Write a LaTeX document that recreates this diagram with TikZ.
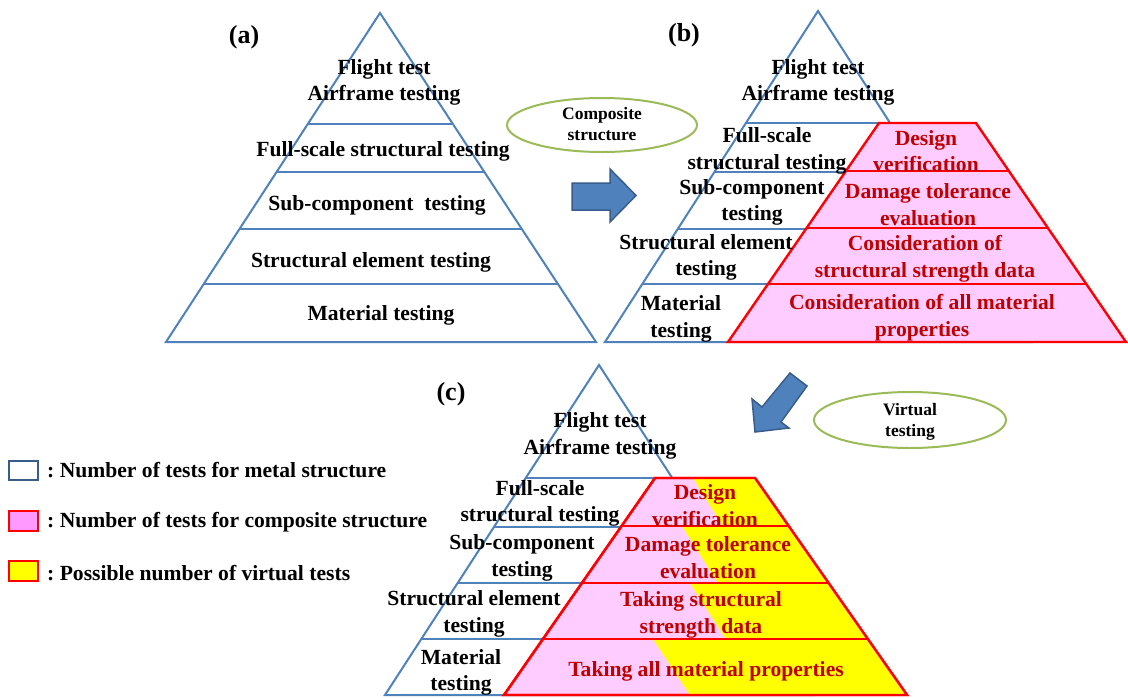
\documentclass[tikz,border=0pt]{standalone}
\usepackage{fontspec}
\setmainfont{Liberation Serif}
\frenchspacing
\definecolor{pblue}{RGB}{79,129,189}
\definecolor{dblue}{RGB}{56,93,138}
\definecolor{pred}{RGB}{255,0,0}
\definecolor{tred}{RGB}{192,0,0}
\definecolor{ppink}{RGB}{255,204,255}
\definecolor{lpink}{RGB}{255,153,255}
\definecolor{pyel}{RGB}{255,255,0}
\definecolor{pgreen}{RGB}{155,187,89}
\begin{document}
\begin{tikzpicture}[x=1pt,y=-1pt,
  blueline/.style={draw=pblue,line width=2pt,line join=miter},
  redline/.style={draw=pred,line width=2.4pt,line join=miter},
  lbl/.style={font=\fontsize{21.6}{26.5}\selectfont\bfseries\frenchspacing,align=center,inner sep=0pt,text=black,yshift=-2.5pt},
  rlbl/.style={lbl,text=tred},
  tag/.style={font=\fontsize{26}{30}\selectfont\bfseries,inner sep=0pt,yshift=-2pt},
  oval/.style={draw=pgreen,line width=2pt},
  otext/.style={font=\fontsize{17.5}{21.5}\selectfont\bfseries,align=center,inner sep=0pt,yshift=-1pt},
  blockarrow/.style={fill=pblue,draw=dblue,line width=1.5pt,line join=miter},
  legbox/.style={line width=2pt}
]
\useasboundingbox (0,0) rectangle (1128,697);
\fill[white] (0,0) rectangle (1128,697);

% ---------------- (a) ----------------
\draw[blueline] (380,13) -- (166,342) -- (596,342) -- cycle;
\draw[blueline] (307.5,124) -- (452.5,124);
\draw[blueline] (276.1,172) -- (483.9,172);
\draw[blueline] (238.8,229) -- (521.2,229);
\draw[blueline] (202.9,284) -- (557.1,284);
\node[tag] (taga) at (244,35) {(a)};
\node[lbl] (a1) at (384,80) {Flight test\\Airframe testing};
\node[lbl] (a2) at (383,149) {Full-scale structural testing};
\node[lbl] (a3) at (377,203) {Sub-component\ \ testing};
\node[lbl] (a4) at (371,260) {Structural element testing};
\node[lbl] (a5) at (381,313) {Material testing};

% ---------------- (b) ----------------
\draw[blueline] (818,11) -- (605,342) -- (1031,342) -- cycle;
\draw[blueline] (745.9,123) -- (890.1,123);
\draw[blueline] (714.4,172) -- (921.6,172);
\draw[blueline] (677.7,229) -- (958.3,229);
\draw[blueline] (642.3,284) -- (993.7,284);
\filldraw[redline,fill=ppink] (879,123) -- (976,123) -- (1126,342) -- (728,342) -- cycle;
\draw[redline] (845.9,171) -- (1008.9,171);
\draw[redline] (806.6,228) -- (1047.9,228);
\draw[redline] (768.0,284) -- (1086.3,284);
\node[tag] (tagb) at (684,33) {(b)};
\node[lbl] (b1) at (818,80) {Flight test\\Airframe testing};
\node[lbl] (b2) at (767,148.5) {Full-scale\\structural testing};
\node[lbl] (b3) at (752,200) {Sub-component\\testing};
\node[lbl] (b4) at (706,255) {Structural element\\testing};
\node[lbl] (b5) at (681,316.5) {Material\\testing};
\node[rlbl] (r1) at (926,148.5) {Design\\verification};
\node[rlbl] (r2) at (928,202) {Damage tolerance\\evaluation};
\node[rlbl] (r3) at (925,256.5) {Consideration of\\structural strength data};
\node[rlbl] (r4) at (922,315) {Consideration of all material\\properties};

% ---------------- (c) ----------------
\draw[blueline] (599,365) -- (385,695) -- (813,695) -- cycle;
\draw[blueline] (525.7,478) -- (672.3,478);
\draw[blueline] (493.9,527) -- (704.1,527);
\draw[blueline] (457.6,583) -- (740.4,583);
\draw[blueline] (421.3,639) -- (776.7,639);
\filldraw[redline,fill=ppink] (655,478) -- (755,478) -- (907,695) -- (504,695) -- cycle;
\fill[pyel] (693,478) -- (755,478) -- (788.6,526) -- (723,526) -- cycle;
\fill[pyel] (682,526) -- (788.6,526) -- (828.5,583) -- (718,583) -- cycle;
\fill[pyel] (690,583) -- (828.5,583) -- (867.7,639) -- (726,639) -- cycle;
\fill[pyel] (653,639) -- (867.7,639) -- (907,695) -- (690,695) -- cycle;
\draw[redline] (655,478) -- (755,478) -- (907,695) -- (504,695) -- cycle;
\draw[redline] (621.6,526) -- (788.6,526);
\draw[redline] (581.9,583) -- (828.5,583);
\draw[redline] (542.9,639) -- (867.7,639);
\node[tag] (tagc) at (451,392) {(c)};
\node[lbl] (c1) at (600,433.5) {Flight test\\Airframe testing};
\node[lbl] (c2) at (540,501) {Full-scale\\structural testing};
\node[lbl] (c3) at (522,555.5) {Sub-component\\testing};
\node[lbl] (c4) at (474,611.5) {Structural element\\testing};
\node[lbl] (c5) at (461,670) {Material\\testing};
\node[rlbl] (s1) at (705,503) {Design\\verification};
\node[rlbl] (s2) at (708,555) {Damage tolerance\\evaluation};
\node[rlbl] (s3) at (701,612.5) {Taking structural\\strength data};
\node[rlbl] (s4) at (706,669) {Taking all material properties};

% ---------------- ovals and arrows ----------------
\draw[oval] (602,125) ellipse [x radius=95, y radius=27];
\node[otext] (comp) at (602,123) {Composite\\structure};
\draw[oval] (910,420) ellipse [x radius=96, y radius=28];
\node[otext] (virt) at (910,421) {Virtual\\testing};
\draw[blockarrow] (572,183) -- (610,183) -- (610,169) -- (636,195.5) -- (610,222) -- (610,210) -- (572,210) -- cycle;
\draw[blockarrow] (755,432) -- (752,399) -- (762,407) -- (790,373) -- (807,386) -- (781,422) -- (789,428) -- cycle;

% ---------------- legend ----------------
\draw[legbox,draw=dblue,fill=white] (9,461) rectangle (38,480);
\draw[legbox,draw=pred,fill=lpink] (9,511) rectangle (38,531);
\draw[legbox,draw=pred,fill=pyel] (9,561) rectangle (38,581);
\node[lbl,anchor=west] (l1) at (47,468) {: Number of tests for metal structure};
\node[lbl,anchor=west] (l2) at (47,520) {: Number of tests for composite structure};
\node[lbl,anchor=west] (l3) at (47,571) {: Possible number of virtual tests};
\end{tikzpicture}
\end{document}
